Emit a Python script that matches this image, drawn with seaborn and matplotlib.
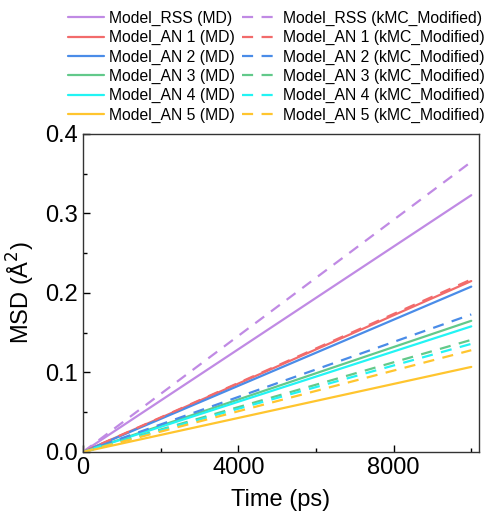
import numpy as np
import pandas as pd
import matplotlib
matplotlib.use("Agg")
import matplotlib.pyplot as plt
import seaborn as sns
from matplotlib.ticker import MultipleLocator

sns.set_theme(style="ticks")
plt.rcParams['font.family'] = ['Liberation Sans', 'DejaVu Sans']
plt.rcParams['text.color'] = 'black'

# ---- data ----
time_ps = [0, 10000]
models = ["Model_RSS", "Model_AN 1", "Model_AN 2", "Model_AN 3", "Model_AN 4", "Model_AN 5"]
msd_md_end = [0.323, 0.215, 0.208, 0.165, 0.158, 0.107]
msd_kmc_end = [0.365, 0.217, 0.173, 0.141, 0.136, 0.128]
colors = ["#C08AE4", "#F26B6B", "#4A8CE8", "#62C98A", "#22F4F4", "#FFC52E"]

rows = []
for m, md, km in zip(models, msd_md_end, msd_kmc_end):
    for t in time_ps:
        rows.append({"time": t, "msd": md * t / time_ps[-1], "label": f"{m} (MD)"})
    for t in time_ps:
        rows.append({"time": t, "msd": km * t / time_ps[-1], "label": f"{m} (kMC_Modified)"})
df = pd.DataFrame(rows)

fig = plt.figure(figsize=(4.88, 5.23), dpi=100)
ax = fig.add_axes([0.170, 0.1358, 0.9816 - 0.170, 0.7438 - 0.1358])

for m, c in zip(models, colors):
    sub = df[df["label"] == f"{m} (MD)"]
    sns.lineplot(data=sub, x="time", y="msd", ax=ax, color=c, lw=1.6, label=f"{m} (MD)")
for m, c in zip(models, colors):
    sub = df[df["label"] == f"{m} (kMC_Modified)"]
    sns.lineplot(data=sub, x="time", y="msd", ax=ax, color=c, lw=1.6,
                 label=f"{m} (kMC_Modified)", dashes=False)
    ax.lines[-1].set_dashes((5, 3.8))

h, l = ax.get_legend_handles_labels()
ax.get_legend().remove()
leg = fig.legend(h, l, ncol=2, loc="upper left", bbox_to_anchor=(0.133, 0.985), frameon=False,
                 fontsize=11.3, handlelength=2.3, handletextpad=0.3, columnspacing=0.45,
                 labelspacing=0.265, borderaxespad=0, borderpad=0.2)
for t in leg.get_texts():
    t.set_color("black")

ax.set_xlim(0, 10200)
ax.set_ylim(0, 0.4)
ax.xaxis.set_major_locator(MultipleLocator(4000))
ax.xaxis.set_minor_locator(MultipleLocator(2000))
ax.yaxis.set_major_locator(MultipleLocator(0.1))
ax.yaxis.set_minor_locator(MultipleLocator(0.05))
ax.yaxis.set_major_formatter(matplotlib.ticker.FormatStrFormatter('%.1f'))
ax.tick_params(which="both", direction="in", top=False, right=False, labelsize=17, colors="black")
ax.tick_params(which="major", length=5, width=1)
ax.tick_params(which="minor", length=3, width=1)
for s in ax.spines.values():
    s.set_visible(True)
    s.set_color("#333333")
    s.set_linewidth(1.0)
ax.set_xlabel("Time (ps)", fontsize=17, color="black", labelpad=7)
ax.set_ylabel("MSD (Å$^2$)", fontsize=17, color="black", labelpad=6)
ax.grid(False)

fig.savefig("out.png", dpi=100)
